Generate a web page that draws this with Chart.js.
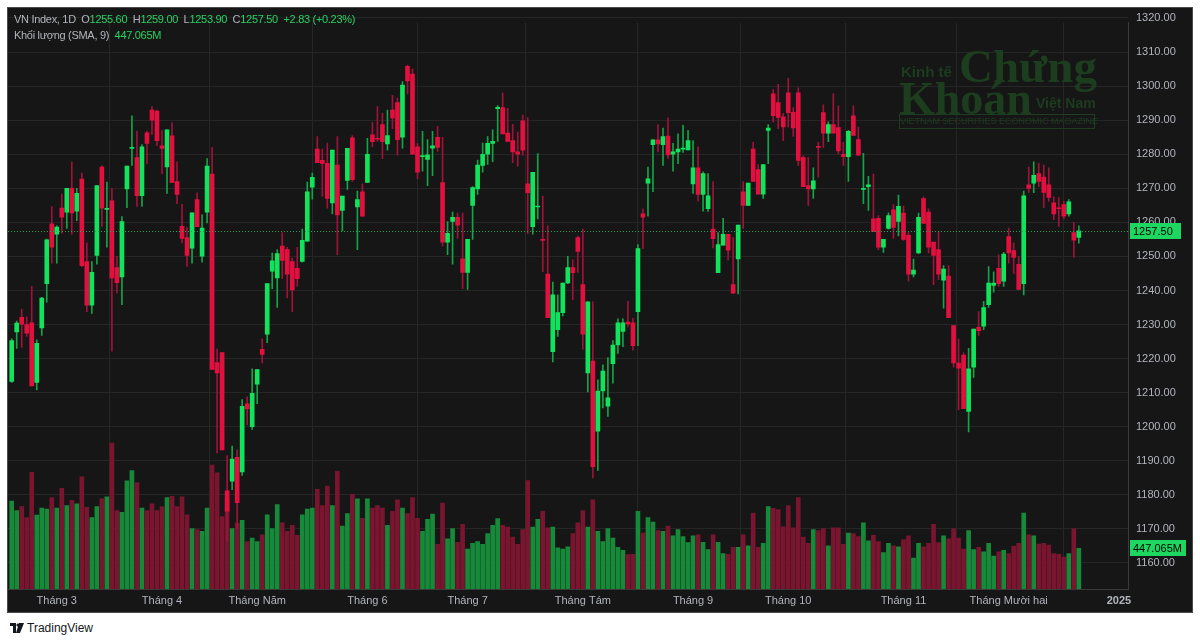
<!DOCTYPE html>
<html>
<head>
<meta charset="utf-8">
<script src="https://cdn.jsdelivr.net/npm/chart.js@4.4.1/dist/chart.umd.min.js"></script>
<style>
  body { margin: 0; background: #ffffff; width: 1200px; height: 643px; overflow: hidden; font-family: "Liberation Sans", Arial, sans-serif; }
  #frame { position: absolute; left: 7px; top: 7px; width: 1184px; height: 604px; border: 1px solid #4a4a4a; background: #161616; }
  #chart { position: absolute; left: 0; top: 0; }
  .hdr { position: absolute; left: 6px; font-size: 11px; letter-spacing: -0.3px; color: #b2b5be; white-space: nowrap; }
  .hdr .v { color: #26d363; }
  .wm { position: absolute; color: #1d3d1f; white-space: nowrap; font-weight: bold; }
  #tv { position: absolute; left: 10px; top: 621px; font-size: 12px; color: #131722; display: flex; align-items: center; gap: 3px; }
</style>
</head>
<body>
<div id="frame">
  <canvas id="chart" width="1184" height="604"></canvas>
  <div class="wm" style="left:893px;top:55px;font-size:15px;font-family:'Liberation Sans Narrow','Liberation Sans',sans-serif;">Kinh tế</div>
  <div class="wm" style="left:951px;top:31px;font-size:47px;font-family:'Liberation Serif',serif;">Chứng</div>
  <div class="wm" style="left:891px;top:64px;font-size:46px;font-family:'Liberation Serif',serif;">Khoán</div>
  <div class="wm" style="left:1028px;top:87px;font-size:14px;">Việt Nam</div>
  <div class="wm" style="left:891px;top:106px;width:194px;height:13px;border:1px solid #1d3d1f;font-size:9px;font-weight:normal;text-align:center;line-height:13px;">VIETNAM SECURITIES ECONOMIC MAGAZINE</div>
  <div class="hdr" style="top:5px;">VN Index, 1D &nbsp;O<span class="v">1255.60</span> &nbsp;H<span class="v">1259.00</span> &nbsp;L<span class="v">1253.90</span> &nbsp;C<span class="v">1257.50</span> &nbsp;<span class="v">+2.83 (+0.23%)</span></div>
  <div class="hdr" style="top:21px;">Khối lượng (SMA, 9) &nbsp;<span class="v">447.065M</span></div>
</div>
<div id="tv">
  <svg width="14" height="10" viewBox="0 0 14 10"><path d="M0 0h6v10H3V3H0z M9 0h5l-4 10H6z" fill="#131722"/><circle cx="8" cy="2" r="1.6" fill="#131722"/></svg>
  <span>TradingView</span>
</div>
<script>
// daily candles, 19 Feb 2024 .. 20 Dec 2024 (index = trading day)
const opens = [1213.3,1227.8,1232.1,1230.0,1230.5,1213.0,1229.0,1242.0,1259.6,1256.5,
1264.2,1263.0,1270.0,1263.3,1272.7,1248.5,1235.7,1250.3,1276.2,1263.8,
1266.3,1246.7,1244.0,1269.8,1281.7,1279.0,1267.8,1286.3,1293.0,1292.7,
1282.5,1276.3,1285.4,1272.0,1258.8,1255.5,1252.4,1266.7,1250.1,1263.0,
1274.2,1218.8,1221.8,1181.2,1184.0,1191.0,1186.7,1206.7,1200.0,1212.5,
1222.7,1227.2,1245.7,1243.7,1253.0,1252.0,1248.5,1246.5,1248.5,1254.5,
1270.3,1281.5,1278.2,1277.3,1265.7,1276.8,1263.5,1272.3,1284.8,1264.5,
1269.0,1271.7,1285.7,1284.6,1288.7,1283.0,1293.0,1295.2,1285.0,1305.8,
1303.5,1282.2,1279.3,1278.5,1281.8,1285.0,1271.7,1254.2,1260.3,1261.5,
1249.3,1245.3,1265.0,1269.8,1276.7,1280.0,1283.2,1293.4,1293.7,1286.2,
1284.0,1280.7,1289.8,1271.3,1258.7,1264.5,1255.0,1244.8,1222.0,1228.5,
1233.5,1242.2,1246.7,1255.5,1241.7,1215.8,1219.3,1198.7,1210.5,1206.0,
1218.5,1224.0,1228.0,1230.7,1230.5,1233.8,1262.5,1271.5,1282.8,1284.2,
1282.8,1285.3,1280.0,1280.7,1281.5,1281.3,1271.3,1276.0,1268.2,1264.0,
1258.0,1245.2,1253.3,1256.5,1241.7,1249.3,1269.0,1265.0,1281.5,1275.5,
1268.3,1287.0,1297.7,1295.2,1291.0,1298.0,1292.3,1298.0,1279.0,1270.8,
1269.8,1282.2,1292.2,1286.2,1288.7,1287.8,1280.0,1279.3,1291.3,1284.3,
1269.7,1270.5,1261.0,1261.2,1252.7,1258.2,1263.7,1260.3,1262.7,1256.2,
1244.8,1251.0,1267.0,1263.0,1254.2,1252.0,1243.0,1244.2,1229.7,1218.7,
1221.0,1204.5,1217.5,1229.2,1229.5,1235.8,1241.5,1246.5,1242.7,1255.8,
1251.7,1247.7,1242.0,1271.0,1271.5,1274.3,1273.3,1271.0,1265.7,1264.1,
1265.2,1262.5,1257.0,1255.6];

const highs = [1225.8,1231.0,1234.5,1232.3,1241.2,1225.5,1238.0,1255.1,1264.6,1259.0,
1268.3,1270.0,1277.7,1270.0,1274.5,1254.0,1248.5,1270.8,1276.7,1271.8,
1270.0,1250.0,1261.7,1276.5,1291.3,1286.8,1282.8,1286.8,1294.0,1293.0,
1287.0,1287.2,1289.2,1277.8,1265.3,1258.5,1262.8,1268.7,1262.2,1278.7,
1282.0,1222.8,1221.8,1191.5,1194.3,1193.2,1208.0,1208.8,1217.0,1216.8,
1225.8,1242.0,1251.0,1252.0,1257.0,1252.7,1249.5,1252.7,1258.0,1271.8,
1274.5,1285.2,1281.5,1283.3,1281.2,1285.2,1267.7,1281.7,1285.5,1269.2,
1271.3,1284.7,1289.4,1294.0,1292.0,1293.0,1297.3,1296.5,1301.3,1306.2,
1305.0,1283.2,1286.7,1284.3,1286.7,1288.2,1285.0,1260.2,1263.0,1262.7,
1262.7,1255.0,1270.5,1278.3,1283.3,1285.2,1287.2,1294.3,1298.0,1293.5,
1288.8,1286.5,1291.5,1290.8,1274.7,1280.2,1267.7,1259.0,1242.5,1238.7,
1242.2,1250.0,1249.0,1256.0,1258.0,1236.7,1236.7,1213.8,1218.2,1220.3,
1225.3,1231.7,1231.7,1236.8,1231.8,1253.5,1264.0,1276.2,1284.2,1288.7,
1287.7,1290.7,1283.2,1286.0,1288.5,1287.0,1284.0,1282.2,1274.8,1274.3,
1272.0,1257.0,1261.2,1256.5,1255.5,1259.2,1272.0,1271.5,1283.5,1277.0,
1277.0,1288.7,1299.0,1300.5,1292.0,1302.3,1293.7,1299.5,1279.5,1279.0,
1276.0,1283.5,1294.5,1289.5,1297.7,1294.2,1283.5,1287.0,1294.2,1288.0,
1280.3,1273.5,1274.2,1262.0,1255.0,1262.8,1265.2,1268.0,1264.8,1257.0,
1249.2,1262.7,1267.5,1264.0,1254.2,1257.3,1247.3,1247.3,1229.7,1225.7,
1221.7,1223.0,1228.7,1233.8,1236.8,1247.0,1245.5,1250.5,1251.2,1258.3,
1254.0,1250.0,1269.2,1276.2,1277.8,1277.3,1276.8,1276.0,1267.5,1267.3,
1266.2,1266.7,1260.0,1259.0];

const lows = [1213.0,1223.0,1223.3,1226.5,1212.0,1210.8,1226.8,1236.6,1248.0,1248.0,
1256.8,1258.2,1256.5,1260.5,1247.0,1233.8,1233.3,1247.7,1258.8,1252.7,
1222.2,1239.2,1235.8,1264.3,1276.7,1264.7,1264.7,1277.2,1285.8,1282.5,
1274.3,1268.5,1271.7,1265.5,1254.0,1247.1,1248.0,1258.7,1248.3,1259.8,
1216.8,1192.3,1193.2,1166.5,1181.5,1170.0,1185.7,1200.5,1199.2,1206.8,
1218.7,1224.7,1240.5,1235.0,1243.5,1237.8,1233.8,1241.3,1248.3,1254.5,
1266.8,1277.5,1267.7,1264.2,1262.5,1250.5,1257.5,1269.7,1272.0,1252.0,
1261.8,1271.7,1282.2,1283.8,1278.7,1281.2,1287.5,1279.7,1281.8,1297.7,
1280.0,1272.8,1275.0,1270.8,1273.7,1280.8,1253.0,1250.5,1247.7,1255.3,
1240.5,1240.3,1255.0,1268.2,1274.7,1277.0,1277.8,1283.8,1286.0,1283.8,
1277.5,1276.5,1279.7,1256.7,1256.5,1261.0,1245.5,1232.0,1219.0,1226.5,
1232.5,1242.0,1237.3,1245.3,1222.8,1210.2,1185.0,1187.2,1205.5,1203.0,
1212.8,1221.5,1223.5,1229.3,1222.5,1223.8,1252.3,1261.8,1269.0,1280.7,
1276.7,1278.8,1275.0,1277.2,1280.5,1281.3,1268.5,1266.2,1263.3,1263.2,
1252.5,1245.2,1253.3,1249.0,1239.2,1239.0,1258.2,1265.0,1272.0,1268.3,
1267.0,1277.2,1289.5,1287.5,1284.0,1288.0,1285.2,1276.7,1270.5,1265.0,
1267.0,1273.3,1282.0,1283.7,1286.2,1280.2,1276.7,1272.0,1285.5,1279.7,
1265.5,1263.5,1257.3,1252.0,1251.2,1258.0,1255.3,1256.0,1254.7,1242.7,
1244.0,1250.8,1259.7,1251.0,1241.7,1243.2,1234.8,1232.0,1217.5,1205.0,
1205.3,1198.5,1214.5,1226.8,1228.5,1235.0,1239.5,1241.2,1241.2,1248.0,
1245.0,1240.3,1238.7,1268.8,1268.7,1270.5,1264.3,1266.2,1260.8,1258.8,
1261.0,1261.8,1249.7,1253.9];

const closes = [1225.3,1230.4,1230.1,1227.5,1212.0,1224.5,1237.8,1254.9,1252.7,1258.6,
1261.5,1270.0,1262.8,1268.5,1247.3,1235.7,1245.3,1270.8,1264.2,1264.0,
1243.7,1242.3,1260.2,1276.5,1281.9,1267.8,1282.2,1283.2,1290.0,1284.0,
1281.7,1287.2,1271.7,1268.2,1255.3,1250.3,1262.8,1258.7,1258.3,1276.5,
1216.8,1215.8,1193.2,1175.2,1190.5,1177.7,1206.0,1205.2,1209.8,1216.8,
1221.2,1242.0,1248.7,1250.8,1248.8,1244.8,1240.2,1243.5,1254.7,1269.0,
1273.2,1277.5,1277.3,1267.0,1281.2,1262.2,1267.7,1281.7,1272.5,1266.7,
1261.8,1280.0,1283.7,1284.4,1283.7,1285.5,1290.7,1284.3,1300.3,1301.5,
1280.0,1274.7,1279.5,1279.8,1282.5,1282.0,1254.2,1256.8,1261.5,1259.2,
1245.3,1255.0,1270.2,1276.8,1280.0,1283.2,1283.8,1293.8,1286.0,1283.8,
1280.7,1280.0,1281.2,1268.7,1274.7,1264.8,1254.7,1232.0,1238.7,1233.5,
1242.2,1246.7,1245.2,1251.5,1227.2,1236.7,1188.3,1210.5,1216.3,1208.5,
1224.0,1230.5,1230.5,1230.2,1223.8,1252.3,1261.5,1272.8,1284.2,1283.0,
1285.2,1279.8,1280.7,1281.5,1281.7,1284.0,1276.0,1268.2,1274.3,1267.8,
1255.2,1253.5,1256.5,1251.8,1239.2,1259.2,1265.0,1271.5,1272.0,1268.3,
1277.0,1287.7,1291.3,1290.8,1288.0,1292.2,1287.7,1278.2,1270.5,1269.8,
1272.2,1282.0,1286.2,1288.7,1286.2,1281.0,1279.3,1286.7,1285.5,1279.7,
1270.0,1271.0,1257.3,1252.7,1255.0,1262.0,1258.5,1264.7,1255.0,1244.8,
1246.0,1261.5,1259.7,1252.7,1250.3,1244.8,1246.3,1232.0,1218.7,1217.2,
1205.3,1217.0,1228.7,1228.2,1235.0,1242.2,1242.2,1242.0,1250.7,1251.0,
1249.7,1240.3,1267.8,1270.0,1273.8,1272.0,1268.8,1267.3,1262.5,1264.0,
1261.8,1266.0,1254.8,1257.5];

// volume, millions of shares
const volumes = [947,844,888,770,1258,796,873,862,984,873,
1084,899,955,918,1210,881,770,888,973,992,
1573,844,825,1166,1277,1147,873,844,918,844,
888,984,999,888,992,799,651,640,622,873,
1336,1251,781,973,651,707,740,511,548,511,
585,799,651,910,714,622,685,577,799,862,
873,1073,899,1110,899,1269,677,814,1021,973,
762,973,873,899,873,685,836,962,873,814,
984,762,622,751,807,481,925,540,651,503,
696,429,492,511,481,596,685,759,685,666,
559,481,640,1169,666,751,836,659,666,444,
429,455,596,714,844,666,962,622,511,651,
548,448,418,370,374,836,603,770,722,629,
622,677,574,640,566,500,574,585,503,426,
585,503,381,374,448,448,585,466,818,448,
492,888,870,855,670,899,659,984,559,492,
640,629,651,466,659,659,481,603,596,566,
714,518,577,511,392,492,466,455,529,574,
333,492,455,492,696,500,574,540,648,548,
429,629,426,448,400,492,355,400,418,381,
463,492,818,585,574,485,492,474,381,374,
344,381,648,437];

const monthTicks = [9, 30, 49, 71, 91, 114, 136, 155, 178, 199, 221];
const monthLabels = ["Tháng 3", "Tháng 4", "Tháng Năm", "Tháng 6", "Tháng 7", "Tháng Tám",
  "Tháng 9", "Tháng 10", "Tháng 11", "Tháng Mười hai", "2025"];
const priceTicks = [1160, 1170, 1180, 1190, 1200, 1210, 1220, 1230, 1240, 1250,
  1260, 1270, 1280, 1290, 1300, 1310, 1320];
const lastClose = 1257.50;
const volumeSma = 447.065;

const UP = "#12e35c", DOWN = "#e2103f";
const UP_WICK = "#14a347", DOWN_WICK = "#a0123a";
const UP_VOL = "#178a3a", DOWN_VOL = "#7a1530";

const isUp = opens.map((o, i) => closes[i] >= o);

const overlay = {
  id: "overlay",
  beforeDraw(chart) {
    const ctx = chart.ctx;
    ctx.save();
    ctx.fillStyle = "#161616";
    ctx.fillRect(0, 0, chart.width, chart.height);
    ctx.restore();
  },
  afterDatasetsDraw(chart) {
    const ctx = chart.ctx;
    const area = chart.chartArea;
    const y = Math.round(chart.scales.y.getPixelForValue(lastClose)) + 0.5;
    ctx.save();
    ctx.strokeStyle = "#22a552";
    ctx.lineWidth = 1;
    ctx.setLineDash([1, 2]);
    ctx.beginPath();
    ctx.moveTo(area.left, y);
    ctx.lineTo(area.right, y);
    ctx.stroke();
    ctx.restore();
  },
  afterDraw(chart) {
    const ctx = chart.ctx;
    const x0 = chart.chartArea.right + 2;
    const tags = [
      [chart.scales.y.getPixelForValue(lastClose), lastClose.toFixed(2), 51],
      [chart.scales.yv.getPixelForValue(volumeSma), volumeSma.toFixed(3) + "M", 56]
    ];
    ctx.save();
    ctx.font = "11px 'Liberation Sans', Arial, sans-serif";
    ctx.textBaseline = "middle";
    tags.forEach(([y, text, w]) => {
      ctx.fillStyle = "#1ed760";
      ctx.fillRect(x0, Math.round(y) - 8, w, 16);
      ctx.fillStyle = "#000000";
      ctx.fillText(text, x0 + 3, Math.round(y) + 0.5);
    });
    ctx.restore();
  }
};

const idx = opens.map((_, i) => i);

const chart = new Chart(document.getElementById("chart"), {
  type: "bar",
  data: {
    datasets: [
      {
        label: "bodies",
        data: idx.map(i => ({ x: i, y: [opens[i], closes[i]] })),
        backgroundColor: isUp.map(u => u ? UP : DOWN),
        barThickness: 4,
        minBarLength: 1,
        grouped: false,
        yAxisID: "y",
        order: 1
      },
      {
        label: "wicks",
        data: idx.map(i => ({ x: i, y: [lows[i], highs[i]] })),
        backgroundColor: isUp.map(u => u ? UP_WICK : DOWN_WICK),
        barThickness: 1,
        grouped: false,
        yAxisID: "y",
        order: 2
      },
      {
        label: "volume",
        data: idx.map(i => ({ x: i, y: volumes[i] })),
        backgroundColor: isUp.map(u => u ? UP_VOL : DOWN_VOL),
        barThickness: 4,
        grouped: false,
        yAxisID: "yv",
        order: 3
      }
    ]
  },
  options: {
    responsive: false,
    animation: false,
    events: [],
    layout: { padding: 0, autoPadding: false },
    plugins: { legend: { display: false }, tooltip: { enabled: false } },
    scales: {
      x: {
        type: "linear",
        min: -0.74,
        max: 222.81,
        offset: false,
        afterBuildTicks: s => { s.ticks = monthTicks.map(v => ({ value: v })); },
        afterFit: s => { s.height = 23; },
        ticks: {
          color: "#b2b5be",
          font: c => ({ size: 11, weight: c.tick && c.tick.value === 221 ? "bold" : "normal" }),
          maxRotation: 0,
          autoSkip: false,
          padding: 5,
          callback: v => monthLabels[monthTicks.indexOf(v)]
        },
        grid: { color: "#262626", drawTicks: false },
        border: { color: "#3a3a3a" }
      },
      y: {
        position: "right",
        min: 1152.55,
        max: 1322.93,
        afterBuildTicks: s => { s.ticks = priceTicks.map(v => ({ value: v })); },
        afterFit: s => { s.width = 64; },
        ticks: {
          color: "#b2b5be",
          font: { size: 11 },
          padding: 8,
          callback: v => v.toFixed(2)
        },
        grid: { color: "#262626", drawTicks: false },
        border: { color: "#3a3a3a" }
      },
      yv: {
        display: false,
        min: 0,
        max: 6260
      }
    }
  },
  plugins: [overlay]
});

// pin the scales to the reference geometry, whatever area the layout gave
const area = chart.chartArea;
const PX_PER_PT = 3.406, Y_1320 = 10;
const VOL_BASE = 581, PX_PER_M = 0.0928;
const X_FIRST = 3.7, PX_PER_DAY = 5.01;
const sc = chart.options.scales;
sc.y.max = 1320 + (Y_1320 - area.top) / PX_PER_PT;
sc.y.min = 1320 - (area.bottom - Y_1320) / PX_PER_PT;
sc.yv.min = (VOL_BASE - area.bottom) / PX_PER_M;
sc.yv.max = sc.yv.min + (area.bottom - area.top) / PX_PER_M;
sc.x.min = (area.left - X_FIRST) / PX_PER_DAY;
sc.x.max = sc.x.min + (area.right - area.left) / PX_PER_DAY;
chart.update();
</script>
</body>
</html>
